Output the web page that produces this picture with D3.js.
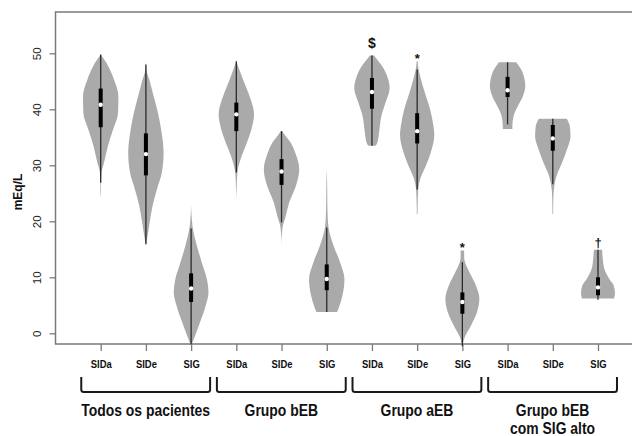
<!DOCTYPE html>
<html>
<head>
<meta charset="utf-8">
<script src="https://cdn.jsdelivr.net/npm/d3@7"></script>
<style>
  body { margin: 0; background: #fff; }
  svg { display: block; }
</style>
</head>
<body>
<svg id="chart" width="632" height="436"></svg>
<script>
// groups of patients, each with the three measures
const groups = [["Todos os pacientes"], ["Grupo bEB"], ["Grupo aEB"], ["Grupo bEB", "com SIG alto"]];
const measures = ["SIDa", "SIDe", "SIG"];
const yTicks = [0, 10, 20, 30, 40, 50];

// box stats per violin (group by group, SIDa / SIDe / SIG), mEq/L
const whiskerLow  = [26.9, 15.9, -2.0, 28.7, 19.8, 3.8, 33.5, 25.7, -2.3, 37.3, 26.6, 6.0];
const q1          = [36.8, 28.2, 5.6, 36.1, 26.5, 7.7, 40.1, 33.9, 3.5, 42.2, 32.6, 6.8];
const median      = [40.8, 32.0, 8.0, 39.1, 28.9, 9.7, 43.1, 36.1, 5.6, 43.4, 34.8, 8.2];
const q3          = [43.7, 35.7, 10.7, 41.2, 31.1, 12.3, 45.6, 39.3, 7.3, 45.8, 37.2, 10.0];
const whiskerHigh = [49.8, 48.0, 18.7, 48.6, 36.1, 18.9, 49.6, 47.1, 12.7, 48.4, 38.3, 14.9];

// density outline per violin: [value, relative density], top to bottom
const density = [
  [[49.8,0],[48.3,0.32],[45.3,0.75],[42.3,1.0],[39.4,0.98],[36.4,0.7],[33.5,0.41],[30.5,0.19],[28.8,0.05],[27,0.02],[25.8,0.02],[24.2,0]],
  [[48.6,0],[47,0.03],[45.3,0.19],[42.3,0.44],[39.4,0.68],[36.4,0.86],[32.3,1.0],[28.7,0.9],[25.7,0.62],[22.8,0.38],[19.8,0.21],[16.9,0.07],[15.7,0]],
  [[22.8,0],[20,0.05],[18.7,0.1],[15.7,0.32],[12.7,0.6],[9.7,0.89],[7.3,0.98],[5.0,0.83],[2.0,0.51],[-0.4,0.23],[-2.3,0]],
  [[48.6,0],[46.5,0.24],[44.1,0.53],[41.8,0.81],[39.1,1.0],[36.4,0.85],[33.5,0.53],[31.1,0.24],[28.7,0.06],[26,0.02],[24,0]],
  [[36.1,0.05],[35.6,0.15],[34.0,0.53],[32.3,0.77],[29.3,1.0],[26.3,0.81],[23.4,0.44],[20.4,0.19],[19.5,0.1],[17.5,0.02],[15.7,0]],
  [[29.4,0],[27,0.02],[24,0.03],[21,0.05],[18.9,0.1],[15.7,0.38],[12.7,0.75],[9.7,1.0],[6.8,0.89],[4.4,0.66],[3.8,0.58]],
  [[49.6,0.12],[49.2,0.21],[47.7,0.58],[45.9,0.86],[43.8,1.0],[41.2,0.77],[38.8,0.53],[35.8,0.4],[34.0,0.3],[33.5,0.2]],
  [[48.6,0.03],[47.5,0.06],[45.9,0.17],[42.9,0.44],[40.0,0.73],[37.0,0.92],[35.5,0.97],[32.3,0.77],[29.9,0.49],[27.5,0.17],[25.7,0.06],[23,0.03],[21.3,0.02]],
  [[14.8,0.1],[13.5,0.1],[12.7,0.15],[10.9,0.4],[8.5,0.77],[6.2,0.96],[3.8,0.83],[1.4,0.49],[-0.9,0.11],[-2.3,0.02]],
  [[48.4,0.49],[47.1,0.77],[45.3,0.96],[44.1,1.0],[42.3,0.86],[40.6,0.58],[38.8,0.34],[37.0,0.27],[36.5,0.27]],
  [[38.3,0.79],[37.0,0.96],[35.2,1.0],[32.9,0.81],[30.5,0.53],[28.1,0.21],[26.6,0.1],[24,0.03],[21.3,0.02]],
  [[14.9,0.23],[13.3,0.27],[11.5,0.36],[9.7,0.64],[8.5,0.89],[7.1,0.96],[6.2,0.9]]
];

// significance marks: violin index, symbol
const marks = [[6, "$"], [7, "*"], [8, "*"], [11, "\u2020"]];

const FONT = "'Liberation Sans', Arial, Helvetica, sans-serif";
const FRAME = "#7a7a7a";
const LEFT = 55.5, TOP = 12, BOTTOM = 344;

const svg = d3.select("#chart");

const x = d3.scalePoint()
  .domain(d3.range(groups.length * measures.length))
  .range([100.7, 598]);
const step = x.step();

const y = d3.scaleLinear().domain([0, 50]).range([333.3, 53.3]);
const w = d3.scaleLinear().domain([0, 1]).range([0, 17.7]);

// frame (right side falls outside the picture)
svg.append("path")
  .attr("d", `M660,${TOP}H${LEFT}V${BOTTOM}H660`)
  .attr("fill", "none")
  .attr("stroke", FRAME)
  .attr("stroke-width", 1.5);

// y axis
const yAxis = svg.append("g")
  .attr("transform", `translate(${LEFT},0)`)
  .call(d3.axisLeft(y).tickValues(yTicks).tickSize(6).tickFormat(d3.format("d")));
yAxis.select(".domain").remove();
yAxis.selectAll("line").attr("stroke", FRAME).attr("stroke-width", 1.3);
yAxis.selectAll("text")
  .attr("x", 0).attr("y", 0).attr("dy", "0.36em")
  .attr("text-anchor", "middle")
  .attr("transform", "translate(-18.5,0) rotate(-90) scale(1.1,1)")
  .style("font-family", FONT)
  .style("font-size", "10.5px")
  .attr("fill", "#222");

svg.append("text")
  .attr("transform", "translate(18,192) rotate(-90)")
  .attr("dy", "0.36em")
  .attr("text-anchor", "middle")
  .style("font-family", FONT)
  .style("font-size", "12px")
  .style("font-weight", "bold")
  .attr("fill", "#111")
  .text("mEq/L");

// x axis
const xAxis = svg.append("g")
  .attr("transform", `translate(0,${BOTTOM})`)
  .call(d3.axisBottom(x).tickSize(7).tickPadding(10).tickFormat(i => measures[i % measures.length]));
xAxis.select(".domain").remove();
xAxis.selectAll("line").attr("stroke", FRAME).attr("stroke-width", 1.3);
xAxis.selectAll("text")
  .attr("transform", "scale(0.9,1)")
  .style("font-family", FONT)
  .style("font-size", "10.5px")
  .style("font-weight", "bold")
  .attr("fill", "#111");

// violins
const area = d3.area()
  .curve(d3.curveMonotoneY)
  .y(d => y(d[0]));

const violins = svg.append("g");
density.forEach((prof, i) => {
  const cx = x(i);
  violins.append("path")
    .datum(prof)
    .attr("d", area.x0(d => cx - w(d[1])).x1(d => cx + w(d[1])))
    .attr("fill", "#aaaaaa");
  violins.append("line")
    .attr("x1", cx).attr("x2", cx)
    .attr("y1", y(whiskerLow[i])).attr("y2", y(whiskerHigh[i]))
    .attr("stroke", "#2b2b2b")
    .attr("stroke-width", 1.3);
  violins.append("rect")
    .attr("x", cx - 2).attr("width", 4)
    .attr("y", y(q3[i])).attr("height", y(q1[i]) - y(q3[i]))
    .attr("fill", "#000");
  violins.append("circle")
    .attr("cx", cx).attr("cy", y(median[i]))
    .attr("r", 2.2)
    .attr("fill", "#fff");
});

// significance symbols above the violins
const markStyle = {
  "$": { dy: -7.7, size: 14 },
  "*": { dy: 2, size: 13 },
  "\u2020": { dy: -2.8, size: 13 }
};
marks.forEach(([i, sym]) => {
  svg.append("text")
    .attr("x", x(i))
    .attr("y", y(density[i][0][0]) + markStyle[sym].dy)
    .attr("text-anchor", "middle")
    .style("font-family", FONT)
    .style("font-size", markStyle[sym].size + "px")
    .style("font-weight", "bold")
    .attr("fill", "#111")
    .text(sym);
});

// group brackets and labels
groups.forEach((lines, g) => {
  const x0 = x(g * 3) - 0.43 * step;
  const x1 = x(g * 3 + 2) + 0.42 * step;
  const cx = (x0 + x1) / 2;
  svg.append("path")
    .attr("d", `M${x0},377V389.5Q${x0},392 ${x0 + 2.5},392H${x1 - 2.5}Q${x1},392 ${x1},389.5V377`)
    .attr("fill", "none")
    .attr("stroke", "#1a1a1a")
    .attr("stroke-width", 2);
  lines.forEach((line, k) => {
    svg.append("text")
      .attr("transform", `translate(${cx},${416 + k * 18}) scale(0.87,1)`)
      .attr("text-anchor", "middle")
      .style("font-family", FONT)
      .style("font-size", "16px")
      .style("font-weight", "bold")
      .attr("fill", "#111")
      .text(line);
  });
});
</script>
</body>
</html>
